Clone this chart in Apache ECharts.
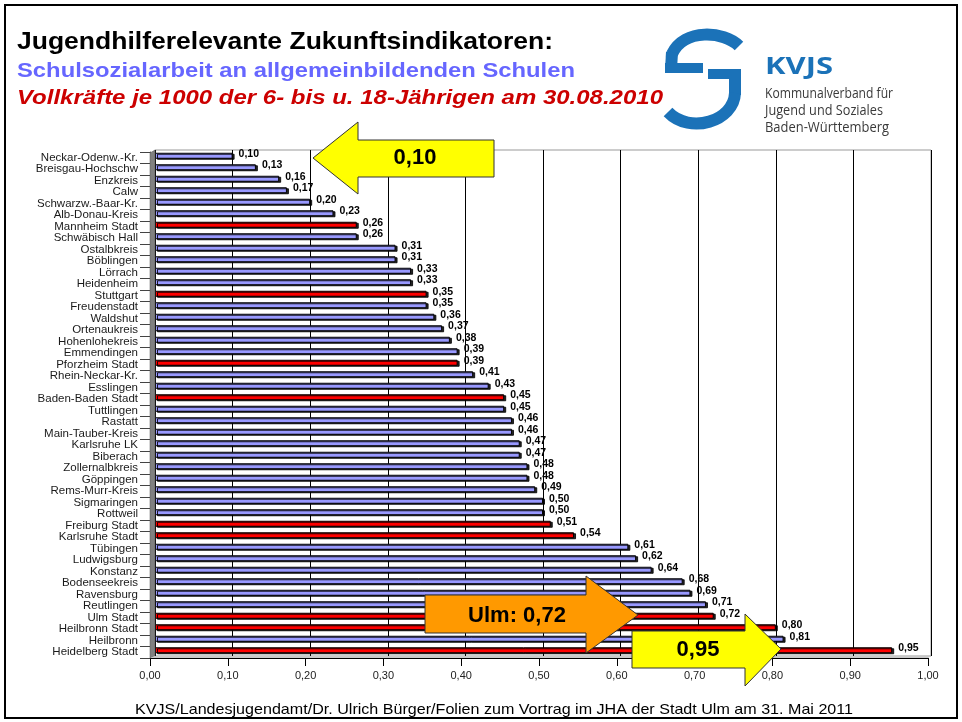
<!DOCTYPE html>
<html>
<head>
<meta charset="utf-8">
<script src="https://cdn.jsdelivr.net/npm/echarts@6/dist/echarts.min.js"></script>
<style>
  html, body { margin: 0; padding: 0; background: #fff; }
  #main { width: 962px; height: 722px; }
</style>
</head>
<body>
<div id="main"></div>
<script>
// Kreise / Städte, von oben nach unten
var kreise = ['Neckar-Odenw.-Kr.', 'Breisgau-Hochschw', 'Enzkreis', 'Calw', 'Schwarzw.-Baar-Kr.',
    'Alb-Donau-Kreis', 'Mannheim Stadt', 'Schwäbisch Hall', 'Ostalbkreis', 'Böblingen', 'Lörrach',
    'Heidenheim', 'Stuttgart', 'Freudenstadt', 'Waldshut', 'Ortenaukreis', 'Hohenlohekreis',
    'Emmendingen', 'Pforzheim Stadt', 'Rhein-Neckar-Kr.', 'Esslingen', 'Baden-Baden Stadt',
    'Tuttlingen', 'Rastatt', 'Main-Tauber-Kreis', 'Karlsruhe LK', 'Biberach', 'Zollernalbkreis',
    'Göppingen', 'Rems-Murr-Kreis', 'Sigmaringen', 'Rottweil', 'Freiburg Stadt', 'Karlsruhe Stadt',
    'Tübingen', 'Ludwigsburg', 'Konstanz', 'Bodenseekreis', 'Ravensburg', 'Reutlingen',
    'Ulm Stadt', 'Heilbronn Stadt', 'Heilbronn', 'Heidelberg Stadt'];

// Vollkräfte je 1000 der 6- bis u. 18-Jährigen
var vollkraefte = [0.10, 0.13, 0.16, 0.17, 0.20, 0.23, 0.26, 0.26, 0.31, 0.31, 0.33, 0.33, 0.35,
    0.35, 0.36, 0.37, 0.38, 0.39, 0.39, 0.41, 0.43, 0.45, 0.45, 0.46, 0.46, 0.47, 0.47, 0.48, 0.48,
    0.49, 0.50, 0.50, 0.51, 0.54, 0.61, 0.62, 0.64, 0.68, 0.69, 0.71, 0.72, 0.80, 0.81, 0.95];

// Stadtkreise (rot)
var stadtkreise = ['Mannheim Stadt', 'Stuttgart', 'Pforzheim Stadt', 'Baden-Baden Stadt',
    'Freiburg Stadt', 'Karlsruhe Stadt', 'Ulm Stadt', 'Heilbronn Stadt', 'Heidelberg Stadt'];

var ARIAL = '"Liberation Sans", Arial, sans-serif';
var OPEN = '"Open Sans", "DejaVu Sans", sans-serif';

function komma(v) {
    return Number(v).toFixed(2).replace('.', ',');
}

// Textbreite messen, damit die Texte so breit wie im Original werden
var ctx = document.createElement('canvas').getContext('2d');
function fit(text, font, width) {
    ctx.font = font;
    return width / ctx.measureText(text).width;
}

function txt(text, x, y, font, color, width, align) {
    var el = {
        type: 'text', x: x, y: y, z: 100,
        style: { text: text, font: font, fill: color, align: align || 'left', verticalAlign: 'middle' }
    };
    if (width) {
        el.scaleX = fit(text, font, width);
    }
    return el;
}

function pfeil(points, color, label, cx, cy) {
    return [
        { type: 'polygon', z: 100, shape: { points: points },
          style: { fill: color, stroke: '#333', lineWidth: 1 } },
        txt(label, cx, cy, 'bold 22px ' + ARIAL, '#000', null, 'center')
    ];
}

var myChart = echarts.init(document.getElementById('main'));

var balken = [];
for (var i = 0; i < kreise.length; i++) {
    balken.push({
        value: vollkraefte[i],
        itemStyle: { color: stadtkreise.indexOf(kreise[i]) >= 0 ? '#FF0000' : '#9999FF' }
    });
}

var logoBlau = '#1B72B8';
var logoStrich = { fill: null, stroke: logoBlau, lineWidth: 12 };

var graphics = [
    // Rahmen
    { type: 'rect', z: 90, shape: { x: 5, y: 5, width: 952, height: 713 },
      style: { fill: null, stroke: '#000', lineWidth: 2 } },
    // linke Wand + Boden (3D)
    { type: 'polygon', z: 5, shape: { points: [[150, 153], [155, 150], [155, 656], [150, 658]] },
      style: { fill: '#808080', stroke: '#555', lineWidth: 0.5 } },
    { type: 'polygon', z: 5, shape: { points: [[150, 658], [155, 656], [931, 656], [928, 658]] },
      style: { fill: '#c8c8c8' } },
    // Überschriften
    txt('Jugendhilferelevante Zukunftsindikatoren:', 17, 42, 'bold 24px ' + ARIAL, '#000', 536),
    txt('Schulsozialarbeit an allgemeinbildenden Schulen', 17, 71.5, 'bold 21px ' + ARIAL, '#6666FF', 558),
    txt('Vollkräfte je 1000 der 6- bis u. 18-Jährigen am 30.08.2010', 17, 98.5, 'italic bold 21px ' + ARIAL, '#CC0000', 646),
    // Logo KVJS
    { type: 'bezierCurve', z: 100,
      shape: { x1: 739, y1: 46, cpx1: 724, cpy1: 31, cpx2: 684, cpy2: 28, x2: 672, y2: 54 },
      style: logoStrich },
    { type: 'line', z: 100, shape: { x1: 672, y1: 52, x2: 671, y2: 70 }, style: logoStrich },
    { type: 'rect', z: 100, shape: { x: 665, y: 63, width: 38, height: 10 }, style: { fill: logoBlau } },
    { type: 'rect', z: 100, shape: { x: 708, y: 69, width: 33, height: 10 }, style: { fill: logoBlau } },
    { type: 'line', z: 100, shape: { x1: 735, y1: 72, x2: 735, y2: 95 }, style: logoStrich },
    { type: 'bezierCurve', z: 100,
      shape: { x1: 735, y1: 93, cpx1: 734, cpy1: 121, cpx2: 690, cpy2: 135, x2: 668, y2: 112 },
      style: logoStrich },
    txt('KVJS', 765, 67.5, 'bold 24px ' + OPEN, logoBlau, 68),
    txt('Kommunalverband für', 765, 94, '14px ' + OPEN, '#3a3a3a', 128),
    txt('Jugend und Soziales', 765, 111, '14px ' + OPEN, '#3a3a3a', 118),
    txt('Baden-Württemberg', 765, 128, '14px ' + OPEN, '#3a3a3a', 124),
    // Fußzeile
    txt('KVJS/Landesjugendamt/Dr. Ulrich Bürger/Folien zum Vortrag im JHA der Stadt Ulm am 31. Mai 2011',
        135, 710, '15px ' + ARIAL, '#000', 718)
];
graphics = graphics.concat(
    pfeil([[313, 158], [358, 122], [358, 140], [494, 140], [494, 177], [358, 177], [358, 194]], '#FFFF00', '0,10', 415, 158),
    pfeil([[425, 595], [586, 595], [586, 576], [638, 615], [586, 653], [586, 633], [425, 633]], '#FF9900', 'Ulm: 0,72', 517, 616),
    pfeil([[632, 631], [745, 631], [745, 614], [781, 649], [745, 686], [745, 668], [632, 668]], '#FFFF00', '0,95', 698, 650)
);

var option = {
    backgroundColor: '#fff',
    animation: false,
    grid: [
        // Rückwand mit Balken
        { left: 155, right: 31, top: 150, bottom: 66, show: true, backgroundColor: '#fff',
          borderColor: '#999', borderWidth: 1 },
        // vordere Achsen
        { left: 150, right: 34, top: 152, bottom: 64 }
    ],
    xAxis: [
        { gridIndex: 0, type: 'value', min: 0, max: 1, interval: 0.1,
          axisLabel: { show: false }, axisLine: { show: false }, axisTick: { show: false },
          splitLine: { show: true, lineStyle: { color: '#000', width: 1 } } },
        { gridIndex: 1, type: 'value', min: 0, max: 1, interval: 0.1,
          axisLine: { show: true, lineStyle: { color: '#000', width: 1 } },
          axisTick: { show: true, length: 8, lineStyle: { color: '#000' } },
          splitLine: { show: false },
          axisLabel: { formatter: komma, fontFamily: ARIAL, fontSize: 11, color: '#222', margin: 12 } }
    ],
    yAxis: [
        { gridIndex: 0, type: 'category', inverse: true, data: kreise,
          axisLabel: { show: false }, axisLine: { show: false }, axisTick: { show: false } },
        { gridIndex: 1, type: 'category', inverse: true, data: kreise,
          axisLine: { show: true, lineStyle: { color: '#555' } },
          axisTick: { show: true, length: 10, lineStyle: { color: '#444' } },
          axisLabel: { fontFamily: ARIAL, fontSize: 11.5, color: '#1a1a1a', margin: 12, interval: 0 } }
    ],
    series: [{
        name: 'Vollkräfte',
        type: 'bar',
        xAxisIndex: 0,
        yAxisIndex: 0,
        barWidth: 6,
        data: balken,
        itemStyle: {
            borderColor: '#000', borderWidth: 1,
            shadowColor: 'rgba(0,0,0,0.85)', shadowOffsetX: 2, shadowOffsetY: 1, shadowBlur: 0
        },
        label: {
            show: true, position: 'right', distance: 6, offset: [0, -2],
            formatter: function (p) { return komma(p.value); },
            fontFamily: ARIAL, fontWeight: 'bold', fontSize: 10.5, color: '#000'
        }
    }],
    graphic: graphics
};

myChart.setOption(option);
</script>
</body>
</html>
